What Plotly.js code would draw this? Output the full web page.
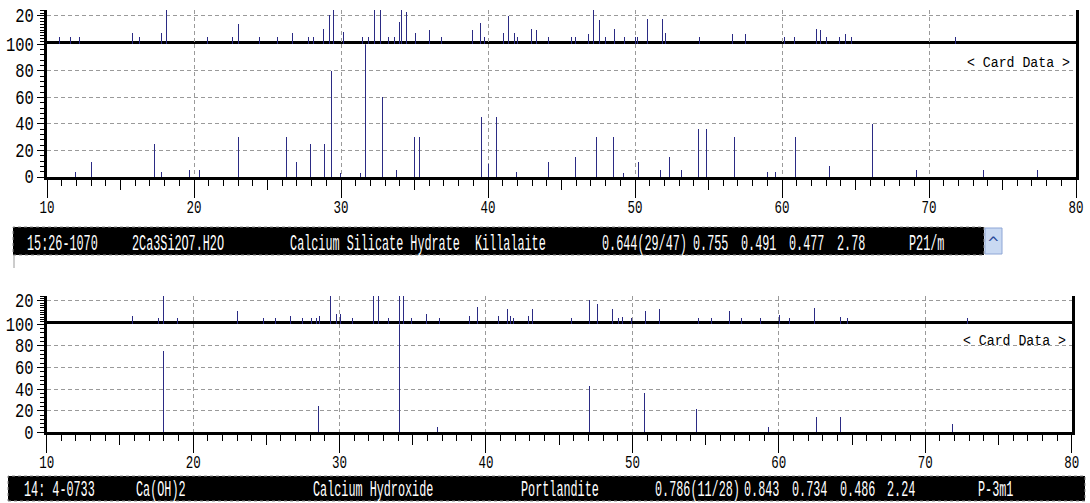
<!DOCTYPE html>
<html>
<head>
<meta charset="utf-8">
<script src="https://cdn.plot.ly/plotly-3.0.1.min.js"></script>
<style>
html,body{margin:0;padding:0;background:#fff;}
#chart{width:1090px;height:503px;}
</style>
</head>
<body>
<div id="chart"></div>
<script>
// ---------- DATA ----------
// Panel 1 (Killalaite card) - upper strip peaks
const strip1Pos = [10.88,11.63,12.18,15.85,16.32,17.8,18.11,20.95,22.63,23.0,24.44,25.69,26.68,27.77,28.16,28.79,29.2,29.5,30.2,31.45,31.9,32.3,32.69,33.26,33.64,33.96,34.12,34.48,35.09,36.04,36.84,38.95,39.46,39.74,41.05,41.42,41.82,42.03,42.98,43.3,44.09,45.7,45.95,46.81,47.17,47.58,47.99,48.6,49.3,50.03,50.17,50.87,51.87,52.09,54.38,56.63,57.49,60.14,60.84,62.34,62.63,63.02,63.88,64.35,64.74,71.83];
const strip1Int = [5,5,5,8,5,8,25,5,5,14,5,5,8,5,5,11,21,25,9,5,5,25,25,5,5,16,25,23,8,10,5,10,15,5,8,20,8,5,11,10,5,5,5,7,25,17,5,11,5,5,5,18,18,8,5,7,7,5,5,11,10,5,5,7,5,5];
// Panel 1 - card data peaks
const card1Pos = [11.97,13.04,17.3,17.8,19.66,20.36,23.0,26.3,26.98,27.93,28.86,29.38,29.97,31.35,31.67,32.85,33.78,35.02,35.34,39.56,40.06,40.55,41.96,44.09,45.97,47.35,48.53,49.21,50.23,51.75,52.36,53.18,54.31,54.86,56.78,58.98,59.57,60.95,63.24,66.15,69.18,73.72,77.37];
const card1Int = [4,11,25,4,5,5,30,30,11,25,25,80,3,3,100,60,5,30,30,45,10,45,4,11,15,30,30,3,11,5,15,5,36,36,30,4,4,30,8,40,5,5,5];
// Panel 2 (Portlandite card) - upper strip peaks
const strip2Pos = [15.86,17.61,18.0,18.95,23.0,24.8,25.64,26.64,27.5,28.07,28.43,28.66,29.36,29.82,30.05,30.86,32.31,32.65,33.31,34.09,34.38,34.93,35.96,36.8,38.86,39.45,40.87,41.44,41.67,41.89,42.9,43.15,45.87,47.1,47.6,48.61,49.02,49.32,49.95,50.87,51.87,54.5,55.41,56.6,57.44,58.74,60.07,60.71,62.45,64.23,64.69,72.9];
const strip2Int = [7,5,25,5,11,5,5,7,5,5,5,7,25,9,9,5,25,25,5,25,25,5,9,5,7,15,7,13,7,5,7,13,5,21,17,13,5,6,5,11,13,5,5,11,5,5,8,5,14,6,5,5];
// Panel 2 - card data peaks
const card2Pos = [18.0,28.59,34.09,36.67,47.1,50.8,54.38,59.31,62.54,64.23,71.83];
const card2Int = [75,24,100,5,43,36,22,5,14,14,8];

const xTickVals = [10,20,30,40,50,60,70,80];
const yTickVals = [0,20,40,60,80,100];
const stripTickVals = [20];

const info1Fields = ["15:26-1070","2Ca3Si2O7.H2O","Calcium Silicate Hydrate","Killalaite","0.644(29/47)","0.755","0.491","0.477","2.78","P21/m"];
const info2Fields = ["14: 4-0733","Ca(OH)2","Calcium Hydroxide","Portlandite","0.786(11/28)","0.843","0.734","0.486","2.24","P-3m1"];
const cardLabel = "< Card Data >";

// ---------- LAYOUT HELPERS ----------
const W = 1090, H = 503;
const px = v => v / W;
const py = v => 1 - v / H;
const LINE = '#2b2b84';
const MONO = "'Liberation Mono','DejaVu Sans Mono',monospace";
const xTickFont = {family: MONO, size: 12.5, color: '#000'};
const yTickFont = {family: MONO, size: 15.5, color: '#000'};
const barFont = {family: MONO, size: 11.8, color: '#fff'};

function sticks(xs, ys, xa, ya) {
  const X = [], Y = [];
  xs.forEach((x, i) => { X.push(x, x, null); Y.push(0, ys[i], null); });
  return {x: X, y: Y, xaxis: xa, yaxis: ya, type: 'scatter', mode: 'lines',
          line: {color: LINE, width: 1}, hoverinfo: 'skip', showlegend: false};
}

function xMain(domain, anchor) {
  return {domain: domain, range: [10, 80], anchor: anchor, tickvals: xTickVals,
    ticks: 'outside', ticklen: 18, tickwidth: 1, tickcolor: '#000', ticklabelstandoff: -1,
    showline: true, linewidth: 3, linecolor: '#000', mirror: true,
    showgrid: true, gridcolor: '#9a9a9a', griddash: '4px,3px', gridwidth: 1,
    zeroline: false, tickfont: xTickFont, fixedrange: true,
    minor: {dtick: 1, tick0: 10, ticks: 'outside', ticklen: 6, tickwidth: 1, tickcolor: '#000', showgrid: false}};
}
function xMid(over, anchor) {
  return {overlaying: over, anchor: anchor, range: [10, 80], dtick: 5, tick0: 10,
    ticks: 'outside', ticklen: 12, tickwidth: 1, tickcolor: '#000',
    showticklabels: false, showgrid: false, showline: false, zeroline: false, fixedrange: true};
}
function yMain(domain, anchor) {
  return {domain: domain, range: [0, 100], anchor: anchor, tickvals: yTickVals,
    ticks: 'outside', ticklen: 7, tickwidth: 1, tickcolor: '#000',
    showline: true, linewidth: 3, linecolor: '#000', mirror: true,
    showgrid: true, gridcolor: '#9a9a9a', griddash: '4px,3px', gridwidth: 1,
    zeroline: false, tickfont: yTickFont, fixedrange: true,
    minor: {dtick: 4, ticks: 'outside', ticklen: 4, tickwidth: 1, tickcolor: '#000', showgrid: false}};
}
function yStrip(domain, anchor, top) {
  return {domain: domain, range: [0, top], anchor: anchor, tickvals: stripTickVals,
    ticks: 'outside', ticklen: 7, tickwidth: 1, tickcolor: '#000',
    showline: true, linewidth: 3, linecolor: '#000', mirror: true,
    showgrid: true, gridcolor: '#9a9a9a', griddash: '4px,3px', gridwidth: 1,
    zeroline: false, tickfont: yTickFont, fixedrange: true,
    minor: {dtick: 2, ticks: 'outside', ticklen: 4, tickwidth: 1, tickcolor: '#000', showgrid: false}};
}

const data = [
  sticks(strip1Pos, strip1Int, 'x', 'y2'),
  sticks(card1Pos, card1Int, 'x', 'y'),
  sticks(strip2Pos, strip2Int, 'x2', 'y4'),
  sticks(card2Pos, card2Int, 'x2', 'y3'),
  {x: [10, 80], y: [-50, -50], xaxis: 'x3', yaxis: 'y', mode: 'lines', line: {width: 0}, hoverinfo: 'skip', showlegend: false},
  {x: [10, 80], y: [-50, -50], xaxis: 'x4', yaxis: 'y3', mode: 'lines', line: {width: 0}, hoverinfo: 'skip', showlegend: false}
];

const layout = {
  width: W, height: H, margin: {l: 0, r: 0, t: 0, b: 0},
  paper_bgcolor: '#fff', plot_bgcolor: '#fff', showlegend: false,
  xaxis: xMain([px(47), px(1076)], 'y'),
  xaxis3: xMid('x', 'y'),
  yaxis: yMain([py(177), py(44.3)], 'x'),
  yaxis2: yStrip([py(44.3), py(10)], 'x', 24.2),
  xaxis2: xMain([px(46.7), px(1071.7)], 'y3'),
  xaxis4: xMid('x2', 'y3'),
  yaxis3: yMain([py(432.3), py(324.3)], 'x2'),
  yaxis4: yStrip([py(324.3), py(296)], 'x2', 24),
  shapes: [
    {type: 'rect', xref: 'paper', yref: 'paper', x0: px(13), x1: px(984), y0: py(255), y1: py(227),
     fillcolor: '#000', line: {color: '#8a8a8a', width: 1, dash: 'dot'}, layer: 'above'},
    {type: 'rect', xref: 'paper', yref: 'paper', x0: px(985), x1: px(1002), y0: py(254), y1: py(228),
     fillcolor: '#c9d9f2', line: {color: '#8ea6d6', width: 1}, layer: 'above'},
    {type: 'line', xref: 'paper', yref: 'paper', x0: px(14), x1: px(14), y0: py(268), y1: py(255),
     line: {color: '#9a9a9a', width: 1}},
    {type: 'rect', xref: 'paper', yref: 'paper', x0: px(8), x1: px(1085), y0: py(501), y1: py(476),
     fillcolor: '#000', line: {color: '#8a8a8a', width: 1, dash: 'dot'}, layer: 'above'}
  ],
  annotations: []
};

const info1X = [26, 131, 289, 474, 601, 692, 740, 788, 836, 908];
const info2X = [23, 135, 312, 520, 654, 743, 791, 839, 886, 977];
info1Fields.forEach((t, i) => layout.annotations.push({text: t, xref: 'paper', yref: 'paper', name: 'bar',
  x: px(info1X[i]), y: py(244.5), xanchor: 'left', yanchor: 'middle', showarrow: false, font: barFont, borderpad: 0}));
info2Fields.forEach((t, i) => layout.annotations.push({text: t, xref: 'paper', yref: 'paper', name: 'bar',
  x: px(info2X[i]), y: py(490), xanchor: 'left', yanchor: 'middle', showarrow: false, font: barFont, borderpad: 0}));
layout.annotations.push({text: '^', xref: 'paper', yref: 'paper', x: px(993.5), y: py(243), xanchor: 'center', yanchor: 'middle',
  showarrow: false, font: {family: 'DejaVu Sans', size: 15, color: '#2a4a9a'}, borderpad: 0});
layout.annotations.push({text: cardLabel, xref: 'paper', yref: 'paper', x: px(1071), y: py(63), xanchor: 'right', yanchor: 'middle',
  showarrow: false, font: {family: MONO, size: 13.2, color: '#000'}, borderpad: 0});
layout.annotations.push({text: cardLabel, xref: 'paper', yref: 'paper', x: px(1067), y: py(340.7), xanchor: 'right', yanchor: 'middle',
  showarrow: false, font: {family: MONO, size: 13.2, color: '#000'}, borderpad: 0});

// stretch the tall, narrow bitmap-like lettering vertically around each text's centre
function stretch(el, sy) {
  if (el.getAttribute('data-stretched')) return;
  const b = el.getBBox();
  const cy = b.y + b.height / 2;
  const tr = el.getAttribute('transform') || '';
  el.setAttribute('transform', tr + ' translate(0,' + cy + ') scale(1,' + sy + ') translate(0,' + (-cy) + ')');
  el.setAttribute('data-stretched', '1');
}

Plotly.newPlot('chart', data, layout, {staticPlot: true, displayModeBar: false}).then(gd => {
  gd.querySelectorAll('[class$="tick"] > text').forEach(t => {
    const cls = t.parentNode.getAttribute('class') || '';
    stretch(t, cls.charAt(0) === 'x' ? 1.4 : 1.25);
  });
  gd.querySelectorAll('text.annotation-text').forEach(t => {
    const s = t.textContent;
    if (s === cardLabel) stretch(t, 1.15);
    else if (s !== '^') stretch(t, 1.85);
  });
  gd.querySelectorAll('.scatterlayer path.js-line').forEach(p => p.style.shapeRendering = 'crispEdges');
});
</script>
</body>
</html>
